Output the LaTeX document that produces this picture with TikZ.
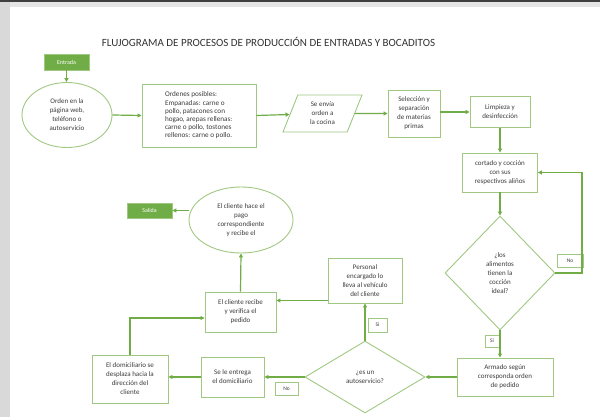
\documentclass[tikz,border=0pt]{standalone}
\usepackage{fontspec}
\setmainfont{Carlito}
\usetikzlibrary{shapes.geometric,arrows.meta,calc}
\definecolor{gline}{RGB}{112,173,71}
\definecolor{gbox}{RGB}{160,200,130}
\definecolor{gfill}{RGB}{112,173,71}
\definecolor{txt}{RGB}{60,60,60}
\begin{document}
\begin{tikzpicture}[x=1pt,y=-1pt,
  every node/.style={font=\fontsize{7}{9}\selectfont, text=txt, inner sep=0pt, align=center},
  proc/.style={draw=gbox, line width=0.9pt, rectangle},
  oval/.style={draw=gbox, line width=0.9pt, ellipse},
  decision/.style={draw=gbox, line width=0.9pt, diamond},
  data/.style={draw=gbox, line width=0.9pt, trapezium, trapezium left angle=57,
    trapezium right angle=123, trapezium stretches body},
  term/.style={fill=gfill, draw=gbox, line width=0.6pt, text=white,
    font=\fontsize{6}{7}\selectfont},
  tag/.style={draw=gbox, line width=0.6pt, font=\fontsize{5.5}{6}\selectfont},
  arr/.style={draw=gline, line width=1.2pt, -{Triangle[length=4pt,width=4pt]}},
  link/.style={draw=gline, line width=1.2pt}]

% page and window frame
\fill[white] (0,0) rectangle (600,417);
\fill[black!15] (0,0) rectangle (10,417);
\fill[black!75] (0,0) rectangle (600,2.5);
\fill[black!10] (10,2.5) rectangle (600,7);
\useasboundingbox (0,0) rectangle (600,417);

\node[font=\fontsize{11}{13}\selectfont, text=black!80] (title) at (268.5,42)
  {FLUJOGRAMA DE PROCESOS DE PRODUCCIÓN DE ENTRADAS Y BOCADITOS};

% top row
\node[term, minimum width=45pt, minimum height=16pt] (entrada) at (66.5,62) {Entrada};
\node[oval, minimum width=90pt, minimum height=65pt] (orden) at (67,115)
  {Orden en la\\página web,\\teléfono o\\autoservicio};
\node[proc, minimum width=114pt, minimum height=63pt] (ordenes) at (199,115.5)
  {\hspace*{12pt}\parbox{80pt}{\raggedright\fontsize{7.2}{8.2}\selectfont Ordenes posibles:\\Empanadas: carne o\\pollo, patacones con\\hogao, arepas rellenas:\\carne o pollo, tostones\\rellenos: carne o pollo.}};
\node[data, minimum width=79pt, minimum height=37pt] (envia) at (322.5,113.5)
  {Se envía\\orden a\\la cocina};
\node[proc, minimum width=52pt, minimum height=47pt] (seleccion) at (414,113.5)
  {Selección y\\separación\\de materias\\primas};
\node[proc, minimum width=60pt, minimum height=31pt] (limpieza) at (500,112)
  {Limpieza y\\desinfección};

% right column
\node[proc, minimum width=75pt, minimum height=39pt] (cortado) at (500,172.5)
  {cortado y cocción\\con sus\\respectivos aliños};
\node[decision, minimum width=110pt, minimum height=114pt] (d1) at (500,273)
  {¿los\\alimentos\\tienen la\\cocción\\ideal?};
\node[tag, minimum width=26pt, minimum height=13pt] (no1) at (570,260.5) {No};
\node[tag, minimum width=14pt, minimum height=12pt] (si1) at (492,341) {Si};
\node[proc, minimum width=96pt, minimum height=38pt] (armado) at (505,377)
  {Armado según\\corresponda orden\\de pedido};

% bottom row
\node[decision, minimum width=120pt, minimum height=72pt] (d2) at (365,377)
  {¿es un\\autoservicio?};
\node[tag, minimum width=19pt, minimum height=14pt] (si2) at (377.5,325) {Si};
\node[proc, minimum width=74pt, minimum height=45pt] (personal) at (365,280.5)
  {Personal\\encargado lo\\lleva al vehículo\\del cliente};
\node[proc, minimum width=63pt, minimum height=40pt] (entrega) at (232.5,377)
  {Se le entrega\\el domiciliario};
\node[tag, minimum width=23pt, minimum height=13pt] (no2) at (286.5,388.5) {No};
\node[proc, minimum width=76pt, minimum height=48pt] (domic) at (130,379)
  {El domiciliario se\\desplaza hacia la\\dirección del\\cliente};
\node[proc, minimum width=71pt, minimum height=40pt] (recibe) at (240.5,312)
  {El cliente recibe\\y verifica el\\pedido};
\node[oval, minimum width=104pt, minimum height=66pt] (pago) at (241,220)
  {El cliente hace el\\pago\\correspondiente\\y recibe el};
\node[term, minimum width=45pt, minimum height=15pt] (salida) at (149.5,210.5) {Salida};

\coordinate (fb) at (582,273);

% connectors
\draw[arr] (entrada.south) -- (entrada.south |- orden.north);
\draw[arr] (orden.east) -- (ordenes.west);
\draw[arr] (ordenes.east) -- (envia);
\draw[arr] (envia) -- (seleccion);
\draw[arr] (seleccion.east |- limpieza) -- (limpieza.west);
\draw[arr] (limpieza.south) -- (cortado.north);
\draw[arr] (cortado.south) -- (d1.north);
\draw[arr] (d1.east) -- (fb) |- (cortado.east);
\draw[arr] (d1.south) -- (d1.south |- armado.north);
\draw[arr] (armado.west) -- (d2.east);
\draw[arr] (d2.north) -- (personal.south);
\draw[arr] ([yshift=3pt]personal.south west) -- ([yshift=3pt]personal.south west -| recibe.east);
\draw[arr] (d2.west) -- (entrega.east);
\draw[arr] (entrega.west) -- (entrega.west -| domic.east);
\draw[arr] (domic.north) |- ([yshift=-6pt]recibe.west);
\draw[arr] (recibe.north) -- (pago.south);
\draw[arr] (pago.west |- salida.east) -- (salida.east);
\end{tikzpicture}
\end{document}
